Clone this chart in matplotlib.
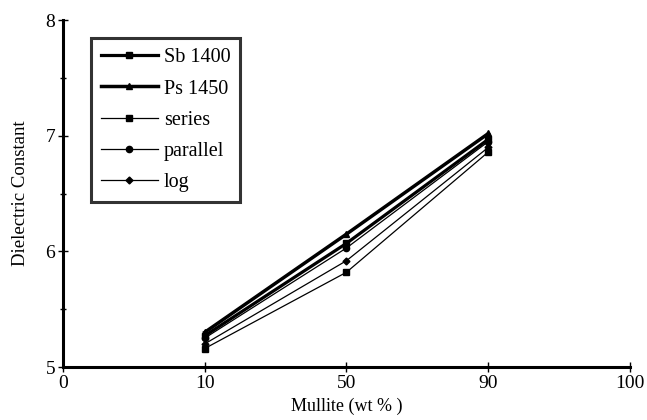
import matplotlib.pyplot as plt
import numpy as np

plt.rcParams['font.family'] = ['Liberation Serif', 'DejaVu Serif']

# categorical x axis (evenly spaced labels)
x_labels = ['0', '10', '50', '90', '100']
x_data = ['10', '50', '90']

sb1400 = [5.27, 6.07, 6.97]
ps1450 = [5.30, 6.15, 7.02]
series = [5.16, 5.82, 6.86]
parallel = [5.25, 6.03, 6.95]
log_vals = [5.20, 5.92, 6.90]

pos = [x_labels.index(v) for v in x_data]

fig = plt.figure(figsize=(6.47, 4.2), dpi=100)
ax = fig.add_axes([0.097, 0.126, 0.877, 0.826])

ax.plot(pos, sb1400, '-s', color='black', lw=2.3, ms=4, label='Sb 1400')
ax.plot(pos, ps1450, '-^', color='black', lw=2.5, ms=4, label='Ps 1450')
ax.plot(pos, series, '-s', color='black', lw=0.9, ms=4.5, label='series')
ax.plot(pos, parallel, '-o', color='black', lw=0.9, ms=4.5, label='parallel')
ax.plot(pos, log_vals, '-D', color='black', lw=0.9, ms=3.5, label='log')

ax.set_xlim(0, 4)
ax.set_ylim(5, 8)
ax.set_xticks(range(len(x_labels)))
ax.set_xticklabels(x_labels)
ax.set_yticks([5, 6, 7, 8])
ax.set_yticks(np.arange(5.5, 8, 1.0), minor=True)

for s in ['top', 'right']:
    ax.spines[s].set_visible(False)
for s in ['left', 'bottom']:
    ax.spines[s].set_linewidth(2.2)

ax.tick_params(axis='both', which='major', direction='inout', length=7, width=1,
               labelsize=14, pad=2)
ax.tick_params(axis='y', which='minor', direction='inout', length=5, width=1)

ax.set_xlabel('Mullite (wt % )', fontsize=13, labelpad=4)
ax.set_ylabel('Dielectric Constant', fontsize=13.5, labelpad=12)

leg = ax.legend(loc='upper left', bbox_to_anchor=(0.05, 0.948), borderaxespad=0,
                fontsize=14.5, handlelength=2.8, frameon=True, fancybox=False,
                edgecolor='black', borderpad=0.5, labelspacing=0.6,
                handletextpad=0.3)
leg.get_frame().set_linewidth(2.2)

fig.savefig('out.png', dpi=100)
